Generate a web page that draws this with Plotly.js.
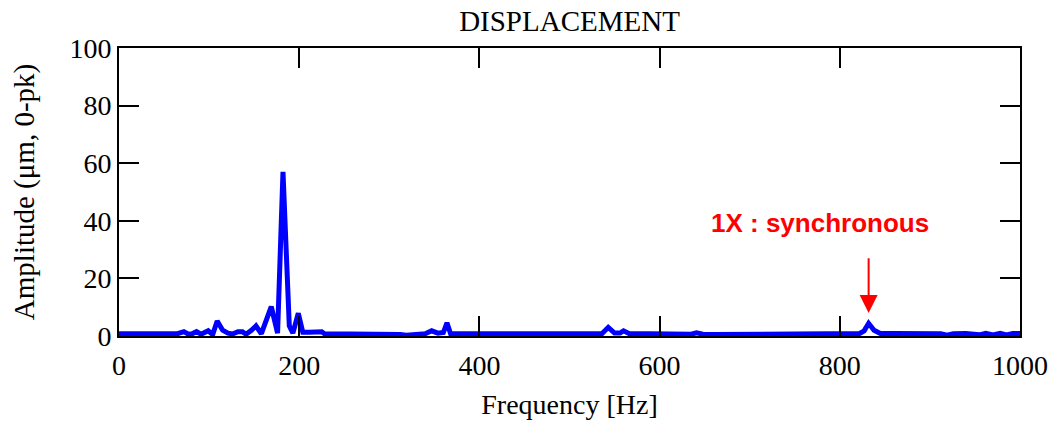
<!DOCTYPE html>
<html>
<head>
<meta charset="utf-8">
<script src="https://cdn.plot.ly/plotly-3.0.1.min.js"></script>
<style>html,body{margin:0;padding:0;background:#fff;}#chart{width:1057px;height:426px;}</style>
</head>
<body>
<div id="chart"></div>
<script>
const freqHz = [0, 10, 30, 50, 65, 72, 76, 80, 86, 91, 99, 104, 109, 115, 121, 126, 132, 137, 141, 147, 152, 158, 164, 169, 176, 182, 189, 193, 199, 204, 211, 219, 225, 228, 240, 260, 280, 300, 312, 319, 326, 340, 347, 354, 360, 364, 368, 380, 400, 420, 436, 444, 452, 460, 468, 476, 484, 500, 520, 536, 543, 550, 556, 560, 566, 580, 600, 615, 625, 635, 641, 648, 660, 680, 700, 710, 730, 750, 770, 790, 810, 822, 827, 832, 838, 845, 860, 880, 900, 912, 919, 926, 940, 955, 962, 970, 978, 985, 992, 1000];
const amplitude = [0.8, 0.8, 0.8, 0.8, 0.8, 1.5, 0.8, 0.6, 1.5, 0.6, 1.8, 0.5, 5.2, 2, 1, 0.7, 1.5, 1.5, 0.6, 2, 3.5, 0.8, 5.5, 10.2, 1, 57, 3.5, 1, 7.9, 1.3, 1.3, 1.5, 1.5, 0.8, 0.8, 0.8, 0.8, 0.8, 0.5, 0.3, 0.6, 0.8, 1.8, 1, 1.2, 4.6, 0.8, 0.8, 0.8, 0.8, 0.6, 0.9, 0.6, 0.9, 0.6, 0.9, 0.6, 0.8, 0.8, 0.8, 3, 1, 1, 1.8, 0.9, 0.8, 0.8, 0.6, 0.9, 0.6, 1.1, 0.6, 0.5, 0.5, 0.5, 0.9, 0.9, 0.6, 0.9, 0.9, 0.9, 0.9, 1.8, 4.4, 2, 0.9, 0.9, 0.9, 0.9, 0.8, 0.3, 0.8, 0.9, 0.4, 0.9, 0.4, 0.9, 0.4, 0.9, 0.9];
const xTicks = [0, 200, 400, 600, 800, 1000];
const yTicks = [0, 20, 40, 60, 80, 100];
const titleText = "DISPLACEMENT";
const xTitle = "Frequency [Hz]";
const yTitle = "Amplitude (μm, 0-pk)";
const noteText = "1X : synchronous";
const noteFreq = 832;

const serif = "Liberation Serif, Times New Roman, serif";
const axisCommon = {
  showline: true, linecolor: "#000", linewidth: 2, mirror: "ticks",
  ticks: "inside", ticklen: 20, tickwidth: 2, tickcolor: "#000",
  showgrid: false, zeroline: false,
  tickfont: {family: serif, size: 28, color: "#000"}
};

const data = [{
  x: freqHz, y: amplitude, type: "scatter", mode: "lines",
  line: {color: "#0000ff", width: 5}, hoverinfo: "skip"
}];

const layout = {
  width: 1057, height: 426,
  margin: {l: 119, r: 37, t: 48, b: 90},
  paper_bgcolor: "#fff", plot_bgcolor: "#fff",
  showlegend: false,
  title: {text: titleText, font: {family: serif, size: 29, color: "#000"}, x: 0.5, xref: "paper", xanchor: "center", y: 0.952, yref: "container", yanchor: "middle"},
  xaxis: Object.assign({}, axisCommon, {range: [0, 1000], tickvals: xTicks, ticktext: xTicks.map(String), ticklabelstandoff: 3,
    title: {text: xTitle, font: {family: serif, size: 28, color: "#000"}, standoff: 15}}),
  yaxis: Object.assign({}, axisCommon, {range: [0, 100], tickvals: yTicks, ticktext: yTicks.map(String),
    title: {text: yTitle, font: {family: serif, size: 29, color: "#000"}, standoff: 26}}),
  annotations: [
    {x: 778, y: 39.2, xref: "x", yref: "y", text: "<b>" + noteText + "</b>", showarrow: false,
     font: {family: "Liberation Sans, Arial, sans-serif", size: 26, color: "#ff0000"}},
    {x: noteFreq, y: 8, xref: "x", yref: "y", ax: noteFreq, ay: 27.5, axref: "x", ayref: "y",
     text: "", showarrow: true, arrowhead: 2, arrowsize: 1.8, arrowwidth: 2, arrowcolor: "#ff0000"}
  ]
};

Plotly.newPlot("chart", data, layout, {displayModeBar: false, staticPlot: true});
</script>
</body>
</html>
